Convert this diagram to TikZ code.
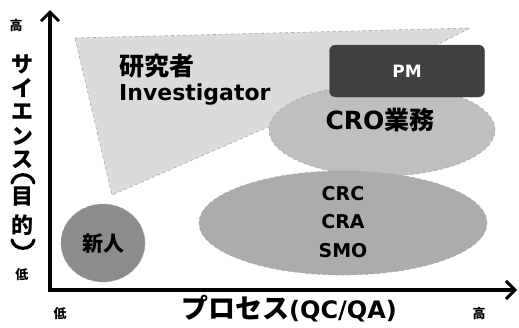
\documentclass[tikz,border=0pt]{standalone}
\usepackage{fontspec}
\newfontfamily\jp{Noto Sans CJK JP}
\newfontfamily\dv{DejaVu Sans}
\usetikzlibrary{arrows.meta,shapes.geometric}
\begin{document}
\begin{tikzpicture}[x=1pt,y=-1pt,
  lbl/.style={font=\jp\bfseries, inner sep=0pt},
  blob/.style={ellipse, draw=gray!70, line width=0.6pt, dashed, inner sep=0pt},
  paren/.style={line width=3.2pt, line cap=round},
  axis/.style={line width=3.6pt, -{Straight Barb[length=9pt,width=18pt,line width=3pt]}}]
\useasboundingbox (0,0) rectangle (519,327);
% investigator region
\path[fill=gray!28, draw=gray!70, dashed, line width=0.6pt]
  (75,38) -- (470,28) -- (330,100) -- (112,195) -- cycle;
% CRO ellipse
\node[blob, fill=gray!50, minimum width=226pt, minimum height=92pt] (cro) at (382,130) {};
% PM box
\node[draw=gray!60!black, fill=black!75, rounded corners=6pt, minimum width=155pt, minimum height=52pt,
  font=\dv\bfseries\fontsize{17}{17}\selectfont, text=white] (pm) at (407,71) {PM};
\node[lbl, font=\dv\bfseries\fontsize{25}{25}\selectfont] (crot) at (380,120) {CRO{\jp\bfseries 業務}};
% investigator text
\node[lbl, anchor=west, font=\jp\bfseries\fontsize{25}{25}\selectfont] (ken) at (119,66) {研究者};
\node[lbl, anchor=west, font=\dv\bfseries\fontsize{22}{22}\selectfont] (inv) at (119,95) {Investigator};
% big ellipse
\node[blob, fill=gray!65, minimum width=288pt, minimum height=104pt] (big) at (343,223) {};
\node[lbl, align=center, font=\dv\bfseries\fontsize{19}{28.5}\selectfont] (crc) at (343,222) {CRC\\CRA\\SMO};
% newcomer
\node[blob, fill=gray!90, minimum width=84pt, minimum height=78pt] (shin) at (103,243) {};
\node[lbl, font=\jp\bfseries\fontsize{21}{21}\selectfont] (shint) at (103,244) {新人};
% axes
\coordinate (o) at (50,290);
\coordinate (ytop) at (50,10);
\coordinate (xend) at (517,290);
\draw[axis] (o) -- (ytop);
\draw[axis] ([xshift=-1.8pt]o) -- (xend);
% axis labels
\node[lbl, font=\jp\bfseries\fontsize{13}{13}\selectfont] (yh) at (16,26) {高};
\node[lbl, font=\jp\bfseries\fontsize{13}{13}\selectfont] (yl) at (22,275) {低};
\node[lbl, font=\jp\bfseries\fontsize{13}{13}\selectfont] (xl) at (60,314) {低};
\node[lbl, font=\jp\bfseries\fontsize{13}{13}\selectfont] (xh) at (479,314) {高};
% vertical label
\foreach \c/\y [count=\i] in {サ/64, イ/88, エ/112, ン/136, ス/160, 目/197, 的/225}
  \node[lbl, font=\jp\bfseries\fontsize{22}{22}\selectfont] (v\i) at (23,\y) {\c};
\coordinate (pa1) at (12,183); \coordinate (pa2) at (34,183);
\coordinate (pb1) at (12,240); \coordinate (pb2) at (34,240);
\draw[paren] (pa1) .. controls (14,172) and (32,172) .. (pa2);
\draw[paren] (pb1) .. controls (14,251) and (32,251) .. (pb2);
\node[lbl, font=\jp\bfseries\fontsize{27}{27}\selectfont] (xlab) at (289,309)
  {プロセス{\dv\bfseries\fontsize{24}{24}\selectfont(QC/QA)}};
\end{tikzpicture}
\end{document}
